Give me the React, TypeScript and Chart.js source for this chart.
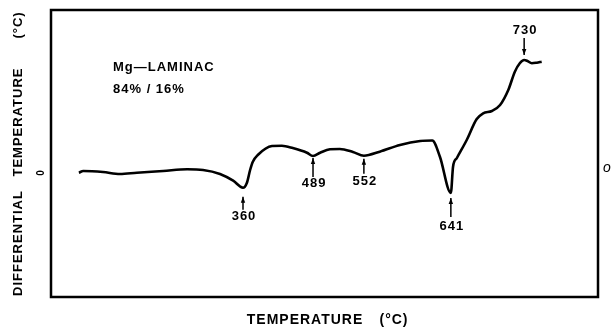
import React, { useEffect, useRef } from 'react';
import { Chart, registerables } from 'chart.js';

Chart.register(...registerables);

// Trace position across the recorder chart (0–100, non-linear in temperature)
const tracePos = [5.1, 5.9, 9.5, 12.6, 15.7, 20.5, 24.9, 27.8, 30.9, 33.3, 35.1, 35.8, 36.4, 36.9, 37.8, 40.4, 42.2, 44.2, 46.8, 47.9, 49.2, 51.0, 52.8, 55.2, 57.2, 60.1, 63.8, 67.5, 69.7, 71.1, 73.1, 73.5, 74.2, 76.0, 77.8, 79.0, 80.6, 82.1, 83.6, 84.8, 85.7, 86.5, 87.1, 87.9, 88.8, 89.7];
// Differential temperature (arbitrary units, 0 = baseline)
const traceDT = [-0.07, 0.1, 0, -0.2, -0.07, 0.1, 0.27, 0.2, -0.2, -0.87, -1.57, -1.1, 0.2, 1.03, 1.7, 2.6, 2.63, 2.4, 1.93, 1.6, 1.93, 2.27, 2.3, 2.0, 1.63, 2.03, 2.7, 3.1, 3.15, 1.53, -2.1, 0.53, 1.4, 3.2, 5.27, 5.87, 6.1, 6.7, 8.2, 10.03, 10.87, 11.2, 11.1, 10.87, 10.93, 11.03];

// Labelled peaks
const peakTemps = ['360', '489', '552', '641', '730'];
const peakPos = [35.1, 47.9, 57.2, 73.1, 86.5];
const peakDT = [-1.57, 1.6, 1.63, -2.1, 11.2];

const sampleName = 'Mg\u2014LAMINAC';
const sampleRatio = '84% / 16%';
const xTitle = ['TEMPERATURE', '(\u00b0C)'];
const yTitle = ['DIFFERENTIAL', 'TEMPERATURE', '(\u00b0C)'];

// styling for the annotations (pixel offsets)
const arrowStyle = [
  { dir: 1, gap: 9, len: 13, label: 29 },
  { dir: 1, gap: 2, len: 19, label: 27 },
  { dir: 1, gap: 3, len: 15, label: 26 },
  { dir: 1, gap: 5, len: 19, label: 33 },
  { dir: -1, gap: 5, len: 17, label: 30 },
];

const FONT = '"Liberation Sans", Arial, Helvetica, sans-serif';

const decor = {
  id: 'decor',
  afterDraw(chart: any) {
    const { ctx, chartArea: a, scales } = chart;
    const xs = scales.x;
    const ys = scales.y;
    ctx.save();
    ctx.fillStyle = '#000';
    ctx.strokeStyle = '#000';
    // frame
    ctx.lineWidth = 2.5;
    ctx.strokeRect(a.left, a.top, a.right - a.left, a.bottom - a.top);

    ctx.textAlign = 'center';
    ctx.textBaseline = 'middle';
    (ctx as any).letterSpacing = '1px';

    // y title (rotated)
    ctx.font = `bold 13px ${FONT}`;
    const yCenters = [243, 122, 25];
    yTitle.forEach((t, i) => {
      ctx.save();
      ctx.translate(18, yCenters[i]);
      ctx.rotate(-Math.PI / 2);
      ctx.fillText(t, 0, 0);
      ctx.restore();
    });
    // zero mark
    ctx.save();
    ctx.font = `bold 10px ${FONT}`;
    (ctx as any).letterSpacing = '0px';
    ctx.translate(41, ys.getPixelForValue(0) + 1);
    ctx.rotate(-Math.PI / 2);
    ctx.fillText('0', 0, 0);
    ctx.restore();

    // x title
    ctx.font = `bold 14px ${FONT}`;
    ctx.fillText(xTitle[0], 305, 320);
    ctx.fillText(xTitle[1], 394, 320);

    // sample label
    ctx.font = `bold 13px ${FONT}`;
    ctx.textAlign = 'left';
    ctx.fillText(sampleName, 113, 67);
    ctx.fillText(sampleRatio, 113, 89);

    // right mark
    ctx.font = `italic 14px ${FONT}`;
    (ctx as any).letterSpacing = '0px';
    ctx.fillText('o', 603, 168);

    // peak annotations
    ctx.textAlign = 'center';
    ctx.font = `bold 13px ${FONT}`;
    (ctx as any).letterSpacing = '1px';
    ctx.lineWidth = 1.5;
    peakTemps.forEach((t, i) => {
      const s = arrowStyle[i];
      const px = xs.getPixelForValue(peakPos[i]);
      const py = ys.getPixelForValue(peakDT[i]);
      const tip = py + s.dir * s.gap;
      const tail = tip + s.dir * s.len;
      ctx.beginPath();
      ctx.moveTo(px, tail);
      ctx.lineTo(px, tip);
      ctx.stroke();
      ctx.beginPath();
      ctx.moveTo(px, tip);
      ctx.lineTo(px - 2.2, tip + s.dir * 6);
      ctx.lineTo(px + 2.2, tip + s.dir * 6);
      ctx.closePath();
      ctx.fill();
      ctx.fillText(t, px + 1, py + s.dir * s.label);
    });
    ctx.restore();
  },
};

export default function App() {
  const ref = useRef<HTMLCanvasElement>(null);
  useEffect(() => {
    if (!ref.current) return;
    const chart = new Chart(ref.current, {
      type: 'line',
      data: {
        datasets: [
          {
            data: tracePos.map((x, i) => ({ x, y: traceDT[i] })),
            borderColor: '#000',
            borderWidth: 2.6,
            pointRadius: 0,
            cubicInterpolationMode: 'monotone',
            fill: false,
          },
        ],
      },
      options: {
        responsive: false,
        animation: false,
        layout: { padding: { left: 51, top: 10, right: 14, bottom: 30 } },
        plugins: { legend: { display: false }, tooltip: { enabled: false } },
        scales: {
          x: { type: 'linear', min: 0, max: 100, display: false },
          y: { type: 'linear', min: -12.5, max: 16.2, display: false },
        },
      },
      plugins: [decor],
    });
    return () => chart.destroy();
  }, []);
  return (
    <div style={{ position: 'absolute', left: 0, top: 0, width: 612, height: 327, background: '#fff' }}>
      <canvas ref={ref} width={612} height={327} style={{ display: 'block' }} />
    </div>
  );
}
